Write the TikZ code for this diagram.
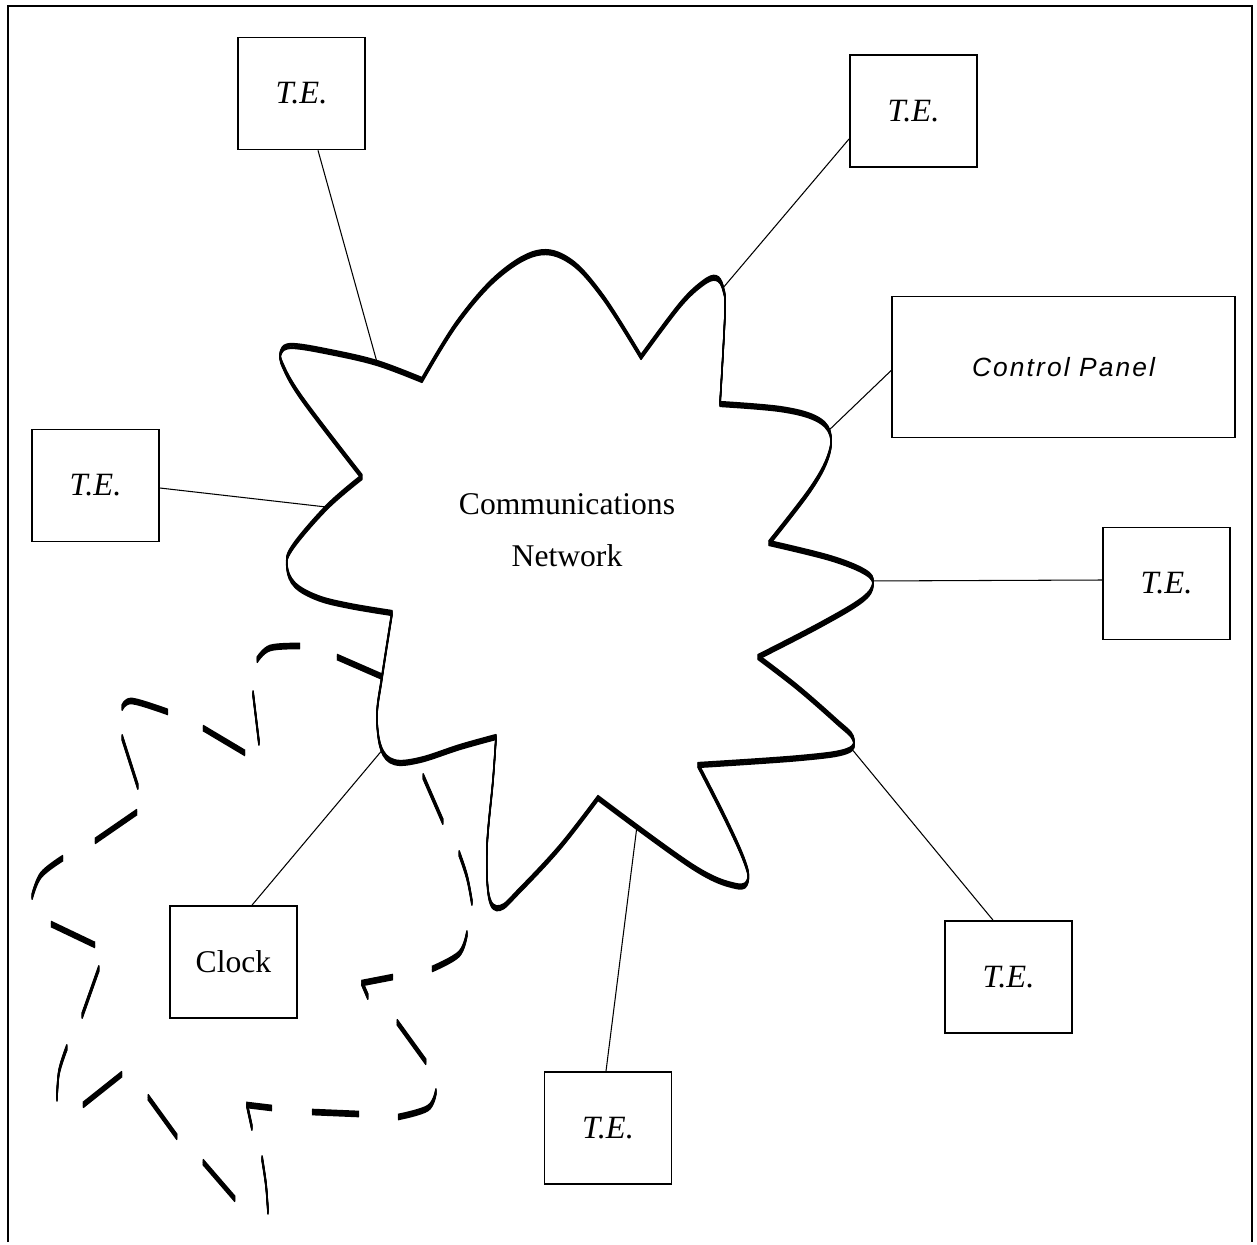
\documentclass[tikz,border=0pt]{standalone}
\usepackage{fontspec}
\setmainfont{Liberation Serif}
\newfontfamily\panelfont{Liberation Sans}[LetterSpace=8.0]
\usetikzlibrary{calc}

% Outline of the communications network (sharp inner corners, rounded lobes)
\newcommand\netoutline{%
  plot[lobe] coordinates {(422,380) (457,323) (497,277) (537,253) (570,261) (603,297) (641,357)}
  -- plot[lobe] coordinates {(641,357) (680,305) (703,283) (716,278) (723,288) (725,312) (720,404)}
  -- plot[lobe] coordinates {(720,404) (780,409) (815,418) (830,433) (828,457) (810,490) (769,543)}
  -- plot[lobe] coordinates {(769,543) (830,558) (865,572) (873,584) (862,600) (820,625) (758,657)}
  -- plot[lobe] coordinates {(758,657) (797,687) (836,721) (853,738) (847,751) (800,758) (698,765)}
  -- plot[lobe] coordinates {(698,765) (725,818) (744,860) (748,880) (736,886) (693,867) (598,798)}
  -- plot[lobe] coordinates {(598,798) (560,847) (520,890) (500,908) (489,897) (487,847) (493,780) (496,737)}
  -- plot[lobe] coordinates {(496,737) (460,747) (420,760) (394,762) (381,748) (377,715) (382,677) (392,613)}
  -- plot[lobe] coordinates {(392,613) (350,606) (318,598) (295,585) (287,567) (292,548) (327,507) (362,477)}
  -- plot[lobe] coordinates {(362,477) (303,400) (283,366) (281,352) (292,346) (330,352) (377,363) (422,380)}
  -- cycle}

% Broken outline of the clock domain, one stroke per dash
\newcommand\clockdashes{%
  (423,776) -- (443,822)
  plot[lobe] coordinates {(459,853) (467,877) (472,903)}
  plot[lobe] coordinates {(467,933) (459,954) (432,969)}
  (393,977) -- (362,983) -- (368,997)
  (397,1022) -- (426,1062)
  plot[lobe] coordinates {(436,1091) (428,1108) (398,1117)}
  (359,1114) -- (312,1112)
  (272,1108) -- (247,1105) -- (252,1128)
  plot[lobe] coordinates {(262,1158) (266,1185) (268,1212)}
  (235,1199) -- (203,1162)
  (177,1137) -- (148,1097)
  (122,1074) -- (83,1105)
  plot[lobe] coordinates {(57,1099) (59,1072) (67,1047)}
  (82,1016) -- (99,968)
  (95,945) -- (51,924)
  plot[lobe] coordinates {(32,897) (41,875) (63,858)}
  (95,841) -- (137,812)
  (138,787) -- (122,737)
  plot[lobe] coordinates {(122,708) (132,701) (168,712)}
  (203,728) -- (245,753)
  (259,743) -- (253,693)
  plot[lobe] coordinates {(257,660) (270,648) (300,646)}
  (337,657) -- (392,681)}

\tikzset{
  lobe/.style={smooth, tension=0.6},
  pen/.style={line width=0.75pt, line join=round, line cap=round},
  dashpen/.style={line width=0.8pt, line join=miter},
  link/.style={line width=0.6pt},
  frame/.style={line width=1.1pt},
  tebox/.style={draw, line width=1pt, fill=white, inner sep=0pt,
    minimum width=2.54cm, minimum height=2.24cm,
    font=\fontsize{18.5}{22}\selectfont\itshape},
  plainbox/.style={tebox, font=\fontsize{18}{22}\selectfont},
  panelbox/.style={draw, line width=1pt, fill=white, inner sep=0pt,
    minimum width=6.86cm, minimum height=2.82cm,
    font=\fontsize{15}{18}\panelfont\itshape},
  netlabel/.style={align=center, font=\fontsize{18}{29.5}\selectfont}
}

\begin{document}
\begin{tikzpicture}[x=0.02cm, y=-0.02cm]
\useasboundingbox (0,0) rectangle (1257,1244);

% outer frame (open at the bottom)
\draw[frame] (8,1242) -- (8,6) -- (1252,6) -- (1252,1242);

% terminals and devices
\node[tebox] (te1) at (301.5,93.5) {T.E.};
\node[tebox] (te2) at (913.5,111) {T.E.};
\node[panelbox] (cp) at (1063.5,367) {Control Panel};
\node[tebox] (tel) at (95.5,485.5) {T.E.};
\node[tebox] (ter) at (1166.5,583.5) {T.E.};
\node[tebox] (tebr) at (1008.5,977) {T.E.};
\node[tebox] (teb) at (608,1128) {T.E.};
\node[plainbox] (clock) at (233.5,962) {Clock};

% attachment points just inside the network outline
\coordinate (k1) at (380,373);
\coordinate (k2) at (717,295);
\coordinate (k3) at (826,433);
\coordinate (k4) at (335,508);
\coordinate (k5) at (864,581);
\coordinate (k6) at (846,742);
\coordinate (k7) at (638,818);
\coordinate (k8) at (389,742);

% clock domain, dashed, drawn with a flat pen
\foreach \o in {-1.5,-1,-0.5,0,0.5,1,1.5}
  \draw[dashpen, yshift=\o pt] \clockdashes;

% links to the network
\draw[link] ([xshift=0.33cm]te1.south) -- (k1);
\draw[link] ([yshift=0.58cm]te2.south west) -- (k2);
\draw[link] ([yshift=-0.07cm]cp.west) -- (k3);
\draw[link] ([yshift=-0.05cm]tel.east) -- (k4);
\draw[link] ([yshift=0.07cm]ter.west) -- (k5);
\draw[link] ([xshift=-0.31cm]tebr.north) -- (k6);
\draw[link] ([xshift=-0.04cm]teb.north) -- (k7);
\draw[link] ([xshift=0.37cm]clock.north) -- (k8);

% the network itself
\fill[white] \netoutline;
\foreach \o in {-1.4,-0.95,-0.5,0,0.5,0.95,1.4}
  \draw[pen, yshift=\o pt] \netoutline;
\node[netlabel] (net) at (567,530) {Communications\\Network};
\end{tikzpicture}
\end{document}
